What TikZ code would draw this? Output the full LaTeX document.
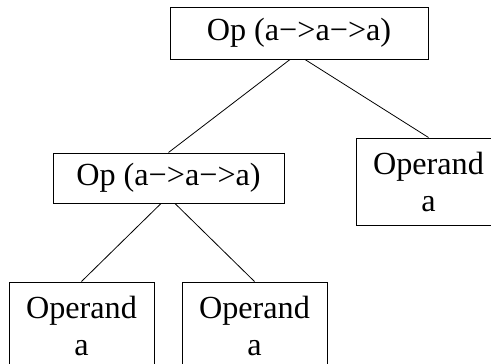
\documentclass[tikz,border=0pt]{standalone}
\usepackage{fontspec}
\setmainfont{Liberation Serif}
\usetikzlibrary{positioning}

\begin{document}
\begin{tikzpicture}[x=1pt, y=-1pt, font=\fontsize{32.2}{37}\selectfont]
      \tikzstyle{opNode} = [rectangle, draw=black, line width=1pt, minimum height=50pt, inner sep=0pt]
      \tikzstyle{operandNode} = [rectangle, draw=black, line width=1pt, minimum width=145pt, minimum height=87pt, align=center, inner sep=0pt]
      \tikzstyle{myLine} = [draw=black, line width=0.8pt]

      \useasboundingbox (0,0) rectangle (491,364);
      \clip (0,0) rectangle (491,364);

      % Nodos
      \node at (299,33) [opNode, minimum width=258pt, minimum height=52pt] (opTop) {Op (a−>a−>a)};
      \node at (168.5,178) [opNode, minimum width=231pt] (opLeft) {Op (a−>a−>a)};
      \node at (428.5,181.5) [operandNode] (argRight) {Operand\\a};
      \node at (81.5,325.5) [operandNode] (argLL) {Operand\\a};
      \node at (254.5,325.5) [operandNode] (argLR) {Operand\\a};

      \draw [myLine] ([xshift=-9pt]opTop.south) -- (opLeft.north);
      \draw [myLine] ([xshift=6pt]opTop.south) -- (argRight.north);
      \draw [myLine] ([xshift=-7.5pt]opLeft.south) -- (argLL.north);
      \draw [myLine] ([xshift=6.5pt]opLeft.south) -- (argLR.north);

    \end{tikzpicture}
\end{document}
